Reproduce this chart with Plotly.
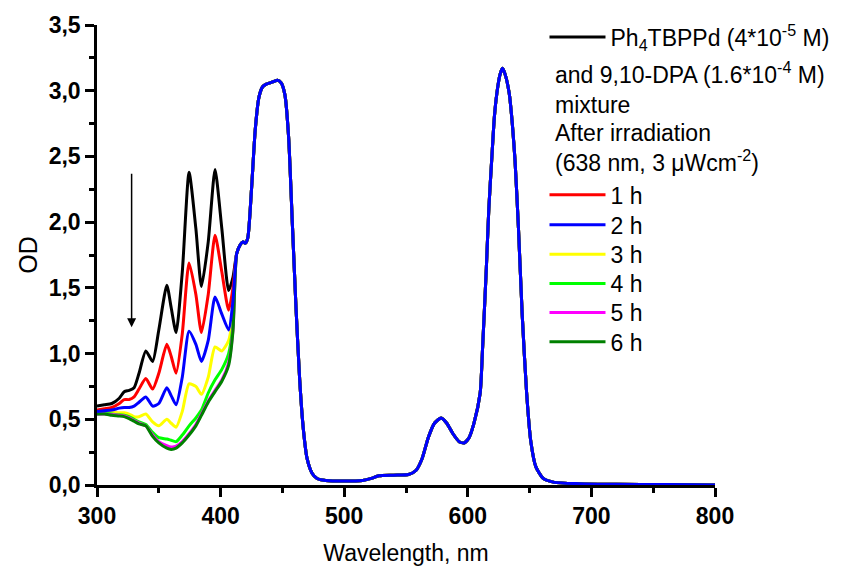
import plotly.graph_objects as go

# --- data ---
wl_low = [300, 306, 312, 318, 322, 326, 330, 334, 339.5, 345, 350, 356.5, 360, 364, 369,
          374.5, 380, 384.5, 390, 395.5, 401, 406.5, 410]
od_0h = [0.60, 0.61, 0.62, 0.66, 0.71, 0.72, 0.74, 0.85, 1.02, 0.94, 1.18, 1.52, 1.35, 1.16, 1.62,
         2.38, 1.95, 1.51, 1.85, 2.40, 1.95, 1.48, 1.58]
od_1h = [0.57, 0.58, 0.59, 0.62, 0.65, 0.65, 0.67, 0.73, 0.81, 0.73, 0.85, 1.07, 0.98, 0.85, 1.15,
         1.69, 1.45, 1.16, 1.45, 1.90, 1.62, 1.33, 1.50]
od_2h = [0.56, 0.565, 0.57, 0.585, 0.59, 0.59, 0.60, 0.63, 0.67, 0.60, 0.62, 0.74, 0.68, 0.61, 0.82,
         1.17, 1.07, 0.94, 1.10, 1.43, 1.30, 1.18, 1.40]
od_3h = [0.55, 0.555, 0.555, 0.55, 0.55, 0.54, 0.52, 0.52, 0.54, 0.48, 0.45, 0.50, 0.47, 0.44, 0.56,
         0.77, 0.75, 0.69, 0.82, 1.05, 1.02, 1.10, 1.30]
od_4h = [0.54, 0.545, 0.54, 0.535, 0.53, 0.52, 0.50, 0.48, 0.46, 0.40, 0.36, 0.35, 0.34, 0.33, 0.38,
         0.45, 0.51, 0.57, 0.70, 0.80, 0.88, 1.00, 1.22]
od_5h = [0.54, 0.54, 0.535, 0.53, 0.525, 0.51, 0.49, 0.47, 0.45, 0.38, 0.33, 0.30, 0.29, 0.295, 0.33,
         0.39, 0.46, 0.54, 0.64, 0.72, 0.80, 0.93, 1.18]
od_6h = [0.54, 0.54, 0.53, 0.525, 0.52, 0.505, 0.485, 0.465, 0.45, 0.37, 0.32, 0.28, 0.27, 0.28, 0.32,
         0.38, 0.45, 0.53, 0.63, 0.71, 0.79, 0.91, 1.17]

# common part of all spectra (unchanged by irradiation)
wl_common = [413, 416, 418, 420, 422, 425, 428, 431, 434, 437, 440, 443, 446, 449, 452, 455, 458,
             461, 464, 467, 470, 474, 478, 485, 500, 515, 522, 528, 540, 552, 558, 563, 568, 573,
             578.5, 583, 588, 593, 597, 601, 605, 610, 612, 615, 617, 619.5, 621.5, 623.5, 626,
             628, 630, 633.5, 636, 638.2, 641, 644, 647.6, 651, 655, 661, 670, 690, 720, 760, 800]
od_common = [1.76, 1.83, 1.85, 1.84, 1.88, 2.25, 2.70, 2.95, 3.03, 3.05, 3.06, 3.07, 3.08, 3.06,
             2.97, 2.65, 2.00, 1.35, 0.80, 0.42, 0.20, 0.09, 0.05, 0.035, 0.03, 0.035, 0.05, 0.07,
             0.075, 0.08, 0.11, 0.20, 0.36, 0.47, 0.51, 0.47, 0.39, 0.33, 0.32, 0.36, 0.47, 0.70,
             1.05, 1.65, 2.10, 2.50, 2.80, 2.98, 3.12, 3.17, 3.13, 2.98, 2.75, 2.47, 1.95, 1.30,
             0.70, 0.33, 0.14, 0.05, 0.02, 0.01, 0.005, 0.003, 0.0]

series_names = ["Ph<sub>4</sub>TBPPd (4*10<sup>-5</sup> M)", "1 h", "2 h", "3 h", "4 h", "5 h", "6 h"]
series_low = [od_0h, od_1h, od_2h, od_3h, od_4h, od_5h, od_6h]
series_colors = ["#000000", "#ff0000", "#0000ff", "#ffff00", "#00ff00", "#ff00ff", "#008000"]
legend_ids = ["legend", "legend2", "legend3", "legend4", "legend5", "legend6", "legend7"]
legend_tops = [1.0207, 0.6774, 0.6122, 0.5485, 0.4848, 0.4217, 0.3578]

wl = wl_low + wl_common
fig = go.Figure()
draw_order = [0, 1, 3, 4, 5, 6, 2]
for i in draw_order:
    fig.add_trace(go.Scatter(
        x=wl, y=series_low[i] + od_common, mode="lines", name=series_names[i],
        line=dict(color=series_colors[i], width=3, shape="spline", smoothing=0.6),
        legend=legend_ids[i],
    ))

FONT = "Liberation Sans, Arial, sans-serif"
axis_common = dict(
    showline=True, linecolor="black", linewidth=2.5, mirror=False,
    ticks="outside", ticklen=9, tickwidth=2.5, tickcolor="black",
    showgrid=False, zeroline=False, automargin=False,
    tickfont=dict(family=FONT, size=23, color="black", weight="bold"),
)
layout_legends = {}
for lid, top in zip(legend_ids, legend_tops):
    layout_legends[lid] = dict(x=0.7241, y=top, xanchor="left", yanchor="top",
                               bgcolor="rgba(0,0,0,0)", font=dict(family=FONT, size=23),
                               itemwidth=56)

# page body has an 8px margin: figure is 833x560 so it ends at the 841x568 window edge
fig.update_layout(
    width=833, height=560,
    margin=dict(l=89, r=126, t=17, b=83, pad=0, autoexpand=False),
    paper_bgcolor="white", plot_bgcolor="white",
    separators=",.",
    font=dict(family=FONT, color="black"),
    xaxis=dict(range=[300, 800], dtick=100, tick0=300,
               minor=dict(dtick=50, ticks="outside", ticklen=5, tickwidth=2.5, tickcolor="black"),
               title=dict(text="Wavelength, nm", font=dict(family=FONT, size=23), standoff=17),
               **axis_common),
    yaxis=dict(range=[0, 3.5], dtick=0.5, tickformat=".1f",
               minor=dict(dtick=0.25, ticks="outside", ticklen=5, tickwidth=2.5, tickcolor="black"),
               title=dict(text="OD", font=dict(family=FONT, size=25), standoff=4),
               **axis_common),
    showlegend=True,
    **layout_legends,
)

text_lines = ["and 9,10-DPA (1.6*10<sup>-4</sup> M)", "mixture", "After irradiation",
              "(638 nm, 3 μWcm<sup>-2</sup>)"]
text_y = [0.895, 0.826, 0.765, 0.704]
for t, yy in zip(text_lines, text_y):
    fig.add_annotation(text=t, xref="paper", yref="paper", x=0.7379, y=yy,
                       xanchor="left", yanchor="middle", showarrow=False,
                       font=dict(family=FONT, size=23, color="black"))

fig.add_annotation(x=328, y=1.20, ax=328, ay=2.38, xref="x", yref="y", axref="x", ayref="y",
                   text="", showarrow=True, arrowhead=2, arrowsize=1.2, arrowwidth=1.5,
                   arrowcolor="black")

fig.write_html("out.html")
